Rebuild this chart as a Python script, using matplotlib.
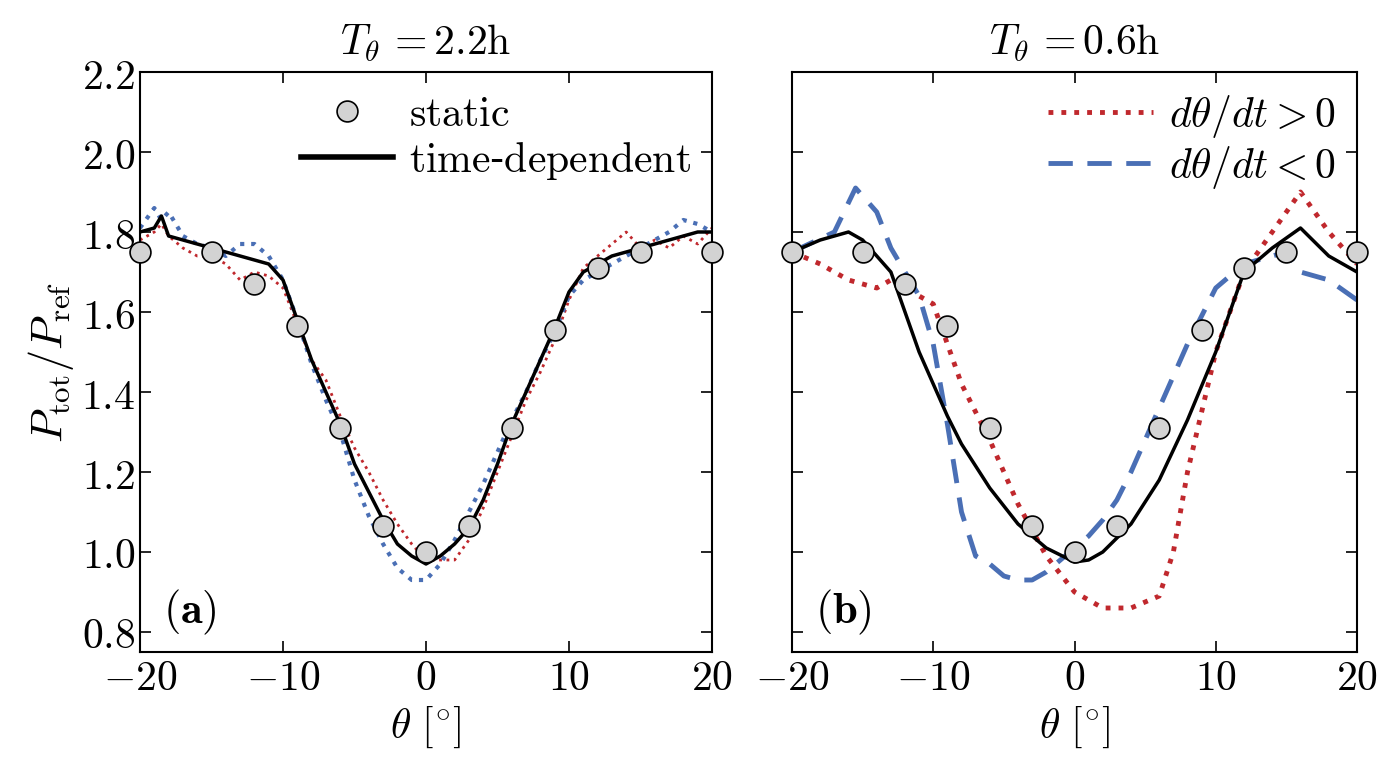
import matplotlib
matplotlib.use("Agg")
import matplotlib.pyplot as plt
import numpy as np

plt.rcParams['mathtext.fontset'] = 'cm'
plt.rcParams['font.family'] = 'serif'
plt.rcParams['font.serif'] = ['DejaVu Serif']

static_th = [-20, -15, -12, -9, -6, -3, 0, 3, 6, 9, 12, 15, 20]
static_p = [1.75, 1.75, 1.67, 1.565, 1.31, 1.065, 1.0, 1.065, 1.31, 1.555, 1.71, 1.75, 1.75]

a_th = [-20, -19, -18.5, -18, -17, -16, -15, -14, -13, -12, -11, -10, -9, -8, -7, -6, -5, -4, -3, -2, -1, 0,
        1, 2, 3, 4, 5, 6, 7, 8, 9, 10, 11, 12, 13, 14, 15, 16, 17, 18, 19, 20]
a_black = [1.80, 1.81, 1.84, 1.79, 1.78, 1.77, 1.76, 1.75, 1.74, 1.73, 1.72, 1.68, 1.58, 1.48, 1.40, 1.32, 1.22, 1.15, 1.08, 1.02, 0.99, 0.97,
           0.99, 1.02, 1.06, 1.13, 1.22, 1.32, 1.40, 1.48, 1.56, 1.65, 1.70, 1.72, 1.74, 1.75, 1.76, 1.77, 1.78, 1.79, 1.80, 1.80]
a_blue = [1.81, 1.86, 1.83, 1.85, 1.79, 1.77, 1.76, 1.74, 1.77, 1.77, 1.74, 1.68, 1.58, 1.47, 1.38, 1.30, 1.18, 1.09, 1.02, 0.96, 0.93, 0.93,
          0.97, 1.03, 1.10, 1.17, 1.25, 1.33, 1.40, 1.48, 1.55, 1.64, 1.68, 1.70, 1.72, 1.74, 1.76, 1.78, 1.80, 1.83, 1.82, 1.80]
a_red = [1.78, 1.80, 1.82, 1.79, 1.76, 1.74, 1.74, 1.72, 1.68, 1.70, 1.69, 1.66, 1.57, 1.48, 1.43, 1.34, 1.26, 1.20, 1.13, 1.07, 1.02, 0.98,
         0.98, 0.98, 1.03, 1.11, 1.20, 1.29, 1.38, 1.45, 1.53, 1.63, 1.71, 1.74, 1.77, 1.80, 1.76, 1.78, 1.76, 1.79, 1.77, 1.81]

b_th_black = [-20, -18, -16, -15, -13, -12, -11, -10, -9, -8, -6, -4, -2, 0, 1, 2, 4, 6, 8, 10, 12, 14, 16, 18, 20]
b_black = [1.75, 1.78, 1.80, 1.78, 1.70, 1.60, 1.50, 1.42, 1.34, 1.27, 1.16, 1.07, 1.01, 0.975, 0.98, 1.0, 1.07, 1.18, 1.33, 1.50, 1.70, 1.76, 1.81, 1.74, 1.70]
b_th_blue = [-20, -17, -15.5, -14, -13, -12, -11, -10, -9, -8, -7, -6, -5, -4, -3, -2, -1, 0, 1, 2, 3, 4, 6, 8, 10, 12, 14, 15, 16, 18, 20]
b_blue = [1.75, 1.80, 1.91, 1.85, 1.76, 1.70, 1.64, 1.52, 1.32, 1.10, 0.99, 0.97, 0.94, 0.93, 0.93, 0.95, 0.98, 1.01, 1.04, 1.08, 1.13, 1.20, 1.36, 1.52, 1.66, 1.72, 1.74, 1.75, 1.70, 1.68, 1.63]
b_th_red = [-20, -18, -16, -14, -13, -12, -10, -9, -8, -6, -4, -2, 0, 2, 4, 6, 7, 8, 10, 12, 14, 16, 18, 20]
b_red = [1.75, 1.72, 1.68, 1.66, 1.68, 1.66, 1.62, 1.52, 1.42, 1.28, 1.12, 0.99, 0.90, 0.86, 0.86, 0.89, 1.0, 1.20, 1.50, 1.70, 1.80, 1.90, 1.80, 1.72]

red = '#c0282d'
blue = '#4a6fb5'

fig = plt.figure(figsize=(13.8, 7.67), dpi=100)
ax1 = fig.add_axes([140/1380, 1-652/767, 572/1380, 580/767])
ax2 = fig.add_axes([792/1380, 1-652/767, 565/1380, 580/767])

for ax in (ax1, ax2):
    ax.set_xlim(-20, 20)
    ax.set_ylim(0.75, 2.2)
    ax.set_xticks([-20, -10, 0, 10, 20])
    ax.set_xticklabels([r'$-20$', r'$-10$', r'$0$', r'$10$', r'$20$'])
    ax.set_yticks(np.arange(0.8, 2.21, 0.2))
    ax.tick_params(direction='in', top=True, right=True, labelsize=30, length=8, width=1.2)
    for s in ax.spines.values():
        s.set_linewidth(1.5)
    ax.set_xlabel(r'$\theta\ [^{\circ}]$', fontsize=30)

ax1.set_yticklabels([r'$%.1f$' % v for v in np.arange(0.8, 2.21, 0.2)])
ax2.set_yticklabels([])
ax1.set_ylabel(r'$P_{\rm tot}/P_{\rm ref}$', fontsize=32)

ax1.plot(a_th, a_red, ':', color=red, lw=2)
ax1.plot(a_th, a_blue, ':', color=blue, lw=3)
ax1.plot(a_th, a_black, '-', color='black', lw=2.5, label=r'$\mathrm{time}$-$\mathrm{dependent}$')
ax1.plot(static_th, static_p, 'o', ms=15, mfc='#d3d3d3', mec='black', mew=1.2, label=r'$\mathrm{static}$', clip_on=False, zorder=5)
h, l = ax1.get_legend_handles_labels()
leg = ax1.legend(h[::-1], l[::-1], loc='upper right', frameon=False, fontsize=30, handlelength=2.2,
                 borderaxespad=0.1, labelspacing=0.1, handletextpad=0.4)
leg.get_lines()[1].set_linewidth(4)
ax1.text(0.04, 0.05, r'$\mathbf{(a)}$', transform=ax1.transAxes, fontsize=32)
ax1.set_title(r'$T_{\theta}\,=2.2{\rm h}$', fontsize=30, pad=12)

ax2.plot(b_th_red, b_red, ':', color=red, lw=3.5, label=r'$d\theta/dt>0$')
ax2.plot(b_th_blue, b_blue, '--', color=blue, lw=3.5, dashes=(5, 3), label=r'$d\theta/dt<0$')
ax2.plot(b_th_black, b_black, '-', color='black', lw=2.5)
ax2.plot(static_th, static_p, 'o', ms=15, mfc='#d3d3d3', mec='black', mew=1.2, clip_on=False, zorder=5)
ax2.legend(loc='upper right', frameon=False, fontsize=30, handlelength=2.5,
           borderaxespad=0.1, labelspacing=0.1, handletextpad=0.4)
ax2.text(0.04, 0.05, r'$\mathbf{(b)}$', transform=ax2.transAxes, fontsize=32)
ax2.set_title(r'$T_{\theta}\,=0.6{\rm h}$', fontsize=30, pad=12)

fig.savefig('out.png', dpi=100)
